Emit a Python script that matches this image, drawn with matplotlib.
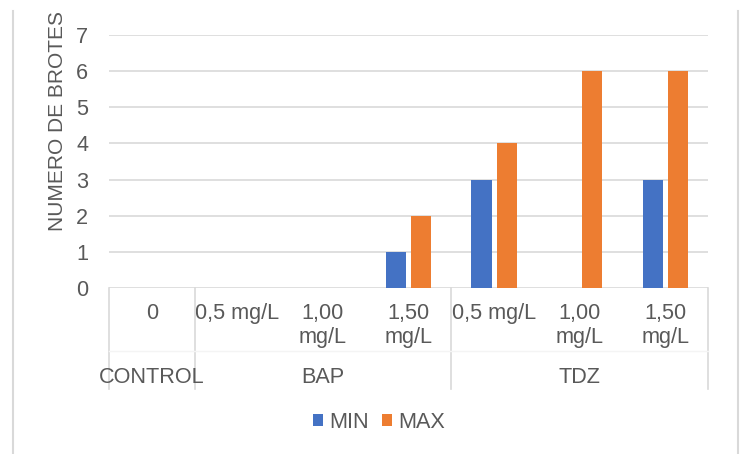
import matplotlib
matplotlib.use("Agg")
import matplotlib.pyplot as plt
import numpy as np
from matplotlib.patches import Patch
from matplotlib.lines import Line2D

# ---- data ----
categories = ["0", "0,5 mg/L", "1,00\nmg/L", "1,50\nmg/L", "0,5 mg/L", "1,00\nmg/L", "1,50\nmg/L"]
groups = ["CONTROL", "BAP", "TDZ"]
group_sizes = [1, 3, 3]
min_values = [0, 0, 0, 1, 3, 0, 3]
max_values = [0, 0, 0, 2, 4, 6, 6]
series_names = ["MIN", "MAX"]
yticks = [0, 1, 2, 3, 4, 5, 6, 7]

# ---- style ----
BLUE = "#4472C4"
ORANGE = "#ED7D31"
TXT = "#595959"
GRID = "#D9D9D9"
FONT = "Liberation Sans"
FS = 15.6

plt.rcParams["font.family"] = [FONT, "DejaVu Sans"]

W, H = 743, 454
fig = plt.figure(figsize=(W / 100, H / 100), dpi=100)

# chart border (partially cropped): only side lines visible
for xp in (12.5, 737.5):
    fig.add_artist(Line2D([xp / W, xp / W], [0, 1 - 11 / H], transform=fig.transFigure,
                          color=GRID, linewidth=1.5))

ax = fig.add_axes([109 / W, 1 - 288 / H, (708 - 109) / W, (288 - 35) / H])

x = np.arange(len(categories)) + 0.5
bw = 0.234
gap = 0.06
ax.bar(x - (bw + gap) / 2, min_values, width=bw, color=BLUE, zorder=3)
ax.bar(x + (bw + gap) / 2, max_values, width=bw, color=ORANGE, zorder=3)

ax.set_xlim(0, len(categories))
ax.set_ylim(0, 7)
ax.set_yticks(yticks)
ax.set_yticklabels([str(t) for t in yticks], fontsize=FS, color=TXT)
ax.tick_params(axis="y", length=0, pad=15)
ax.yaxis.grid(True, color=GRID, linewidth=1.2, zorder=0)
ax.set_axisbelow(True)
for s in ax.spines.values():
    s.set_visible(False)

ax.set_xticks(x)
ax.set_xticklabels(categories, fontsize=FS, color=TXT, linespacing=1.2)
ax.tick_params(axis="x", length=0, pad=11)

# multilevel separators
trans = ax.get_xaxis_transform()
bottom_ax = -(389 - 288) / (288 - 35)
mid_ax = -(351 - 288) / (288 - 35)
bounds = np.cumsum([0] + group_sizes)
for b in bounds:
    ax.add_line(Line2D([b, b], [0, bottom_ax], transform=trans, color=GRID,
                       linewidth=1.2, clip_on=False))
ax.add_line(Line2D([0, len(categories)], [mid_ax, mid_ax], transform=trans,
                   color="#F4F4F4", linewidth=1.0, clip_on=False))
grp_y = -(377 - 288) / (288 - 35)
for g, a, b in zip(groups, bounds[:-1], bounds[1:]):
    ax.text((a + b) / 2, grp_y, g, transform=trans, ha="center", va="center",
            fontsize=FS, color=TXT)

fig.text(58 / W, 1 - 121 / H, "NUMERO DE BROTES", rotation=90, ha="center",
         va="center", fontsize=15.0, color=TXT)

handles = [Patch(facecolor=BLUE, label=series_names[0]),
           Patch(facecolor=ORANGE, label=series_names[1])]
leg = fig.legend(handles=handles, loc="center", bbox_to_anchor=(379 / W, 1 - 422 / H),
                 ncol=2, frameon=False, fontsize=FS, handlelength=0.45,
                 handleheight=0.45, handletextpad=0.28, columnspacing=0.63)
for t in leg.get_texts():
    t.set_color(TXT)

fig.savefig("out.png", dpi=100, facecolor="white")
